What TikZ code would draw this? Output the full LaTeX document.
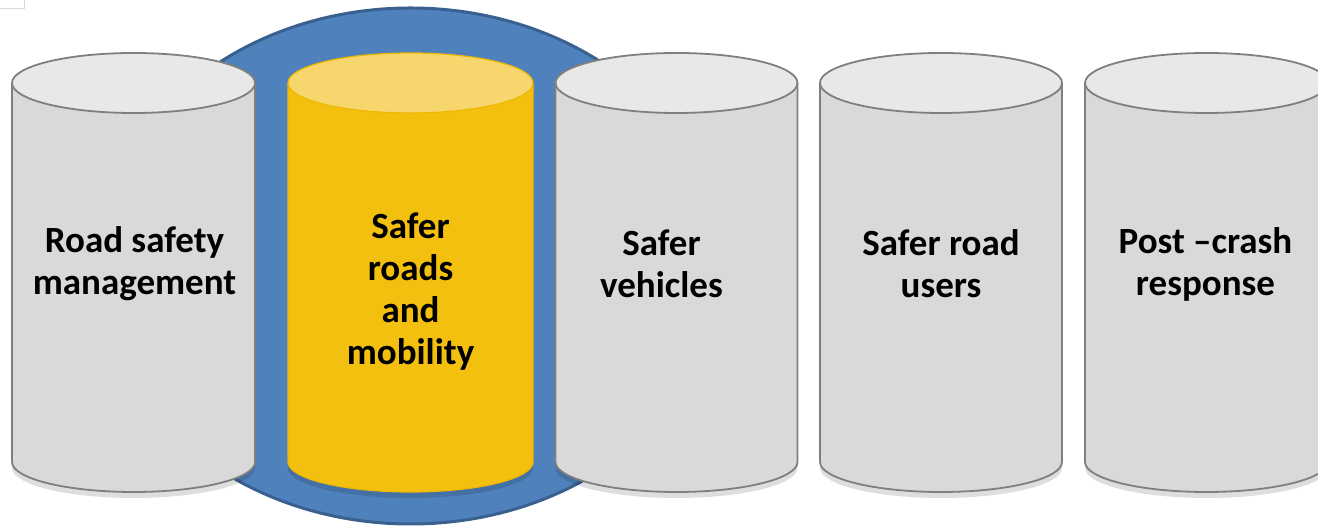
\documentclass[tikz,border=0pt]{standalone}
\usepackage{fontspec}
\setmainfont{Carlito}
\definecolor{pillargray}{HTML}{D9D9D9}
\definecolor{pillartop}{HTML}{E8E8E8}
\definecolor{pillaredge}{HTML}{7F7F7F}
\definecolor{roadyellow}{HTML}{F4C010}
\definecolor{roadtop}{HTML}{F8D66E}
\definecolor{roadedge}{HTML}{EFB800}
\definecolor{ringblue}{HTML}{4F81BD}
\definecolor{ringedge}{HTML}{3A6090}
\tikzset{
  pillar text/.style={font=\bfseries\fontsize{37}{42}\selectfont, align=center, inner sep=0pt},
  pillar shadow/.style={fill=black, opacity=0.13},
}

\begin{document}
\begin{tikzpicture}[x=1pt, y=1pt]

% 画布大小与裁剪
\clip (0,0) rectangle (1318,526);

% 左上角的小方框
\filldraw[fill=white!95!blue!3, draw=black!15] (-1,518) rectangle (24,527);

% 绘制蓝色椭圆底盘
\filldraw[fill=ringblue, draw=ringedge, line width=3pt] (410.5,260) ellipse[x radius=311, y radius=258];

% 绘制柱子底部阴影
\foreach \cx/\rx in {133.5/121.5, 410.5/122.5, 676.5/121, 941/121, 1206.5/121.5}
  \fill[pillar shadow] ({\cx-\rx},58) arc[start angle=180, end angle=360, x radius=\rx, y radius=30] -- ({\cx+\rx},90) -- ({\cx-\rx},90) -- cycle;

% 绘制四根灰色柱子
\foreach \cx/\rx in {133.5/121.5, 676.5/121, 941/121, 1206.5/121.5}
{
  % 柱身
  \fill[pillargray] ({\cx-\rx},443) -- ({\cx-\rx},64) arc[start angle=180, end angle=360, x radius=\rx, y radius=30] -- ({\cx+\rx},443) -- cycle;
  % 柱顶
  \fill[pillartop] (\cx,443) ellipse[x radius=\rx, y radius=30];
  % 轮廓
  \draw[pillaredge, line width=1.8pt] ({\cx-\rx},443) -- ({\cx-\rx},64) arc[start angle=180, end angle=360, x radius=\rx, y radius=30] -- ({\cx+\rx},443);
  \draw[pillaredge, line width=1.8pt] (\cx,443) ellipse[x radius=\rx, y radius=30];
}

% 绘制中间黄色柱子
\fill[roadyellow] (288,443) -- (288,64) arc[start angle=180, end angle=360, x radius=122.5, y radius=30] -- (533,443) -- cycle;
\fill[roadtop] (410.5,443) ellipse[x radius=122.5, y radius=30];
\draw[roadedge, line width=1.2pt] (288,443) -- (288,64) arc[start angle=180, end angle=360, x radius=122.5, y radius=30] -- (533,443);
\draw[roadedge, line width=1.2pt] (410.5,443) ellipse[x radius=122.5, y radius=30];

% 柱子上的文字
\node[pillar text] (management) at (134.5,262) {Road safety\\management};
\node[pillar text] (roads) at (410.5,234) {Safer\\roads\\and\\mobility};
\node[pillar text] (vehicles) at (661.5,262) {Safer\\vehicles};
\node[pillar text] (users) at (941,262) {Safer road\\users};
\node[pillar text] (response) at (1205.5,262) {Post –crash\\response};

\end{tikzpicture}
\end{document}
